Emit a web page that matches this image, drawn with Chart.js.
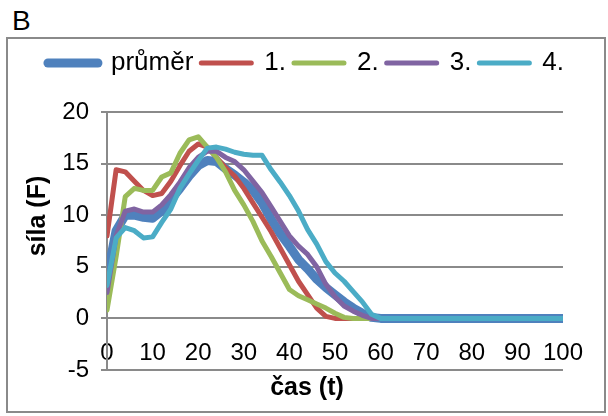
<!DOCTYPE html>
<html>
<head>
<meta charset="utf-8">
<script src="https://cdn.jsdelivr.net/npm/chart.js@4.4.1/dist/chart.umd.min.js"></script>
<style>
    html, body { margin: 0; padding: 0; background: #fff; }
    body { width: 608px; height: 416px; position: relative; overflow: hidden; font-family: "Liberation Sans", Arial, sans-serif; }
    .panel-label { position: absolute; left: 12px; top: 5px; font-size: 28px; line-height: 32px; color: #000; }
    .frame { position: absolute; left: 6px; top: 37px; width: 596px; height: 372px; border: 2px solid #8a8a8a; }
</style>
</head>
<body>
<div class="panel-label">B</div>
<div class="frame"><canvas id="chart"></canvas></div>
<script>
// time axis (t), sampled every 2 units
const times = [
    0, 2, 4, 6, 8, 10, 12, 14, 16, 18, 20, 22, 24, 26, 28, 30, 32, 34, 36, 38, 40,
    42, 44, 46, 48, 50, 52, 54, 56, 58, 60, 62, 64, 66, 68, 70, 72, 74, 76, 78, 80,
    82, 84, 86, 88, 90, 92, 94, 96, 98, 100,
];

const prumer = [
    4.0, 8.5, 10.0, 10.0, 9.8, 9.7, 10.4, 11.5, 12.6, 13.8, 14.8, 15.3, 15.2, 14.5, 13.9, 13.2, 12.4, 11.2, 9.6, 8.2, 7.0,
    5.7, 4.8, 3.8, 3.0, 2.3, 1.6, 1.0, 0.5, 0.1, 0, 0, 0, 0, 0, 0, 0, 0, 0, 0, 0,
    0, 0, 0, 0, 0, 0, 0, 0, 0, 0,
];
const mereni1 = [
    8.0, 14.4, 14.2, 13.3, 12.4, 11.9, 12.1, 13.3, 14.8, 16.2, 16.9, 16.6, 15.6, 14.6, 13.8, 12.6, 11.2, 9.8, 8.4, 6.8, 5.2,
    3.6, 2.3, 1.0, 0.2, 0, 0, 0, 0, 0, 0, 0, 0, 0, 0, 0, 0, 0, 0, 0, 0,
    0, 0, 0, 0, 0, 0, 0, 0, 0, 0,
];
const mereni2 = [
    0.8, 6.0, 11.8, 12.6, 12.4, 12.4, 13.7, 14.1, 16.0, 17.3, 17.6, 16.6, 15.6, 14.2, 12.4, 11.0, 9.4, 7.5, 6.0, 4.4, 2.8,
    2.2, 1.8, 1.4, 1.0, 0.5, 0.1, 0, 0, 0, 0, 0, 0, 0, 0, 0, 0, 0, 0, 0, 0,
    0, 0, 0, 0, 0, 0, 0, 0, 0, 0,
];
const mereni3 = [
    2.5, 8.0, 10.4, 10.6, 10.3, 10.3, 11.0, 12.0, 13.2, 14.6, 15.6, 16.2, 16.2, 15.6, 15.2, 14.4, 13.3, 12.2, 10.8, 9.4, 8.0,
    7.0, 6.2, 5.0, 3.3, 2.1, 1.2, 0.7, 0.3, 0, 0, 0, 0, 0, 0, 0, 0, 0, 0, 0, 0,
    0, 0, 0, 0, 0, 0, 0, 0, 0, 0,
];
const mereni4 = [
    3.2, 7.8, 8.8, 8.5, 7.8, 7.9, 9.3, 10.6, 12.6, 14.0, 15.3, 16.5, 16.6, 16.4, 16.1, 15.9, 15.8, 15.8, 14.4, 13.2, 11.9,
    10.4, 8.6, 7.2, 5.5, 4.4, 3.6, 2.6, 1.6, 0.4, 0, 0, 0, 0, 0, 0, 0, 0, 0, 0, 0,
    0, 0, 0, 0, 0, 0, 0, 0, 0, 0,
];

const seriesNames = ['průměr', '1.', '2.', '3.', '4.'];
const seriesValues = [prumer, mereni1, mereni2, mereni3, mereni4];
const seriesColors = ['#4f81bd', '#c0504d', '#9bbb59', '#8064a2', '#4bacc6'];
const seriesWidths = [9, 5, 5, 5, 5];

const xTicks = { min: 0, max: 100, step: 10 };
const yTicks = { min: -5, max: 20, step: 5 };
const xTitle = 'čas (t)';
const yTitle = 'síla (F)';

const gridColor = '#8a8a8a';
const fontFamily = '"Liberation Sans", Arial, sans-serif';

Chart.defaults.font.family = fontFamily;
Chart.defaults.font.size = 24;
Chart.defaults.color = '#000';

// legend block gets a fixed height so the plot starts where Excel put it
const legendHeight = {
    id: 'legendHeight',
    beforeLayout(chart) {
        const legend = chart.legend;
        if (legend && !legend._fixedFit) {
            const fit = legend.fit;
            legend.fit = function () {
                fit.call(this);
                this.height = 70;
            };
            legend._fixedFit = true;
        }
    },
};

// axis titles sit off-centre in the original, so they are drawn by hand
const axisTitles = {
    id: 'axisTitles',
    afterDraw(chart) {
        const { ctx } = chart;
        ctx.save();
        ctx.font = `bold 25px ${fontFamily}`;
        ctx.fillStyle = '#000';
        ctx.textAlign = 'center';
        ctx.textBaseline = 'middle';
        ctx.fillText(xTitle, 299, 349);
        ctx.translate(30, 177);
        ctx.rotate(-Math.PI / 2);
        ctx.fillText(yTitle, 0, 0);
        ctx.restore();
    },
};

new Chart(document.getElementById('chart'), {
    type: 'line',
    data: {
        labels: times,
        datasets: seriesNames.map((name, i) => ({
            label: name,
            data: seriesValues[i],
            borderColor: seriesColors[i],
            backgroundColor: seriesColors[i],
            borderWidth: seriesWidths[i],
            borderCapStyle: 'round',
            borderJoinStyle: 'round',
            pointRadius: 0,
            tension: 0,
            order: seriesNames.length - i,
        })),
    },
    options: {
        responsive: true,
        maintainAspectRatio: false,
        animation: false,
        layout: { padding: { left: 0, right: 0, top: 3, bottom: 41 } },
        plugins: {
            legend: {
                position: 'top',
                labels: {
                    usePointStyle: true,
                    pointStyle: 'line',
                    pointStyleWidth: 50,
                    boxHeight: 26,
                    padding: 8,
                    font: { size: 26 },
                    sort: (a, b) => a.datasetIndex - b.datasetIndex,
                    generateLabels: (chart) => Chart.defaults.plugins.legend.labels.generateLabels(chart)
                        .map((item) => ({ ...item, lineCap: 'round' })),
                },
            },
            tooltip: { enabled: false },
        },
        scales: {
            x: {
                type: 'linear',
                position: { y: 0 },
                min: xTicks.min,
                max: xTicks.max,
                grid: { display: false, drawTicks: false },
                border: { display: true, color: gridColor, width: 2 },
                ticks: { stepSize: xTicks.step, padding: 21, maxRotation: 0, autoSkip: false },
            },
            y: {
                min: yTicks.min,
                max: yTicks.max,
                grid: { color: gridColor, lineWidth: 2, tickLength: 6, tickColor: gridColor },
                border: { display: true, color: gridColor, width: 2 },
                ticks: { stepSize: yTicks.step, padding: 12 },
                afterFit(scale) {
                    scale.width = 99;
                },
            },
            // empty right-hand axis, only keeps the margin right of the plot
            yRight: {
                position: 'right',
                min: yTicks.min,
                max: yTicks.max,
                grid: { display: false, drawTicks: false },
                border: { display: false },
                ticks: { display: false },
                afterFit(scale) {
                    scale.width = 34;
                },
            },
        },
    },
    plugins: [legendHeight, axisTitles],
});
</script>
</body>
</html>
